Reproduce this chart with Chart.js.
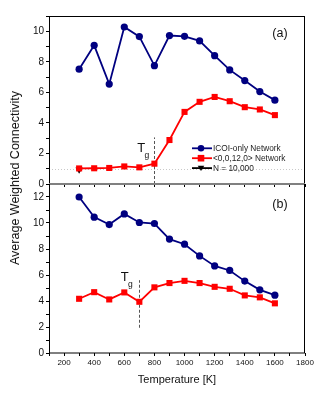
<!DOCTYPE html>
<html lang="en">
<head>
<meta charset="UTF-8">
<title>Average Weighted Connectivity vs Temperature</title>
<script src="https://cdn.jsdelivr.net/npm/chart.js"></script>
<style>
  body { margin: 0; background: #fff; }
  .wrap { position: relative; width: 332px; height: 399px; overflow: hidden; font-family: 'Liberation Sans', Arial, sans-serif; }
  canvas { position: absolute; left: 0; }
  #chartA { top: 0; }
  #chartB { top: 164px; }
  .ytitle { position: absolute; left: 15px; top: 178px; transform: translate(-50%, -50%) rotate(-90deg); white-space: nowrap; font-size: 12.5px; color: #111; }
</style>
</head>
<body>
<div class="wrap">
  <canvas id="chartA" width="332" height="192"></canvas>
  <canvas id="chartB" width="332" height="235"></canvas>
  <div class="ytitle">Average Weighted Connectivity</div>
</div>
<script>
// temperatures (K)
const temps = [300, 400, 500, 600, 700, 800, 900, 1000, 1100, 1200, 1300, 1400, 1500, 1600];

// panel (a)
const icoiA = [7.52, 9.08, 6.54, 10.28, 9.65, 7.75, 9.72, 9.67, 9.37, 8.4, 7.47, 6.77, 6.05, 5.49];
const vA = [1.02, 1.03, 1.05, 1.15, 1.09, 1.33, 2.88, 4.72, 5.38, 5.7, 5.42, 5.03, 4.88, 4.51];
const nTemps = [300];
const nVals = [0.95];

// panel (b)
const icoiB = [12.0, 10.45, 9.88, 10.7, 10.04, 9.96, 8.76, 8.37, 7.47, 6.7, 6.35, 5.53, 4.86, 4.45];
const vB = [4.17, 4.68, 4.12, 4.66, 3.94, 5.05, 5.38, 5.55, 5.38, 5.09, 4.94, 4.43, 4.28, 3.82];

const xTicks = [200, 400, 600, 800, 1000, 1200, 1400, 1600, 1800];

const FONT = "'Liberation Sans', Arial, sans-serif";
const BLUE = '#000080';
const RED = '#ff0000';

function pts(xs, ys) {
  return xs.map((x, i) => ({ x: x, y: ys[i] }));
}

function series(label, xs, ys, color, style, radius, rotation) {
  return {
    label: label,
    data: pts(xs, ys),
    borderColor: color,
    backgroundColor: color,
    borderWidth: 1.8,
    pointStyle: style,
    pointRadius: radius,
    pointHoverRadius: radius,
    pointRotation: rotation || 0,
    pointBorderWidth: 0,
    tension: 0
  };
}

// draws a small marker (for the legend)
function marker(ctx, style, x, y, r) {
  ctx.beginPath();
  if (style === 'circle') {
    ctx.arc(x, y, r, 0, Math.PI * 2);
  } else if (style === 'rect') {
    ctx.rect(x - r, y - r, 2 * r, 2 * r);
  } else {
    ctx.moveTo(x - r, y - r * 0.7);
    ctx.lineTo(x + r, y - r * 0.7);
    ctx.lineTo(x, y + r * 0.9);
    ctx.closePath();
  }
  ctx.fill();
}

const framePlugin = {
  id: 'frame',
  afterDraw(chart, args, opts) {
    const { ctx, chartArea: a } = chart;
    ctx.save();
    ctx.lineWidth = 1;
    ctx.strokeStyle = '#000';
    ctx.beginPath();
    if (opts.top) { ctx.moveTo(a.left, a.top + 0.5); ctx.lineTo(a.right, a.top + 0.5); }
    ctx.moveTo(a.left + 0.5, a.top); ctx.lineTo(a.left + 0.5, a.bottom);
    ctx.moveTo(a.right - 0.5, a.top); ctx.lineTo(a.right - 0.5, a.bottom);
    ctx.stroke();
    ctx.beginPath();
    ctx.strokeStyle = opts.bottomColor || '#000';
    ctx.lineWidth = opts.bottomWidth || 1;
    ctx.moveTo(a.left, a.bottom); ctx.lineTo(a.right, a.bottom);
    ctx.stroke();
    ctx.restore();
  }
};

const notesPlugin = {
  id: 'notes',
  beforeDatasetsDraw(chart, args, opts) {
    const { ctx, chartArea: a, scales: { x, y } } = chart;
    ctx.save();
    if (opts.refLine !== undefined) {
      ctx.strokeStyle = '#c8c8c8';
      ctx.lineWidth = 1;
      ctx.setLineDash([1, 2]);
      ctx.beginPath();
      const py = Math.round(y.getPixelForValue(opts.refLine)) + 0.5;
      ctx.moveTo(a.left, py); ctx.lineTo(a.right, py);
      ctx.stroke();
    }
    ctx.strokeStyle = '#555';
    ctx.setLineDash([3, 2]);
    ctx.beginPath();
    const px = Math.round(x.getPixelForValue(opts.tg)) + 0.5;
    ctx.moveTo(px, y.getPixelForValue(opts.tgFrom));
    ctx.lineTo(px, y.getPixelForValue(opts.tgTo));
    ctx.stroke();
    ctx.setLineDash([]);
    // T_g label
    const lx = x.getPixelForValue(opts.tgLabel[0]);
    const ly = y.getPixelForValue(opts.tgLabel[1]);
    ctx.fillStyle = '#111';
    ctx.textAlign = 'center';
    ctx.textBaseline = 'middle';
    ctx.font = '13px ' + FONT;
    ctx.fillText('T', lx, ly);
    ctx.font = '8.5px ' + FONT;
    ctx.fillText('g', lx + 5.5, ly + 7);
    // panel tag
    ctx.font = '12.5px ' + FONT;
    ctx.fillText(opts.tag, a.right - 25, a.top + opts.tagDy);
    ctx.restore();
  }
};

const legendPlugin = {
  id: 'boxLegend',
  afterDatasetsDraw(chart, args, opts) {
    if (!opts.show) return;
    const { ctx } = chart;
    ctx.save();
    chart.data.datasets.forEach((ds, i) => {
      const yy = opts.y + i * opts.step;
      ctx.strokeStyle = ds.borderColor;
      ctx.fillStyle = ds.backgroundColor;
      ctx.lineWidth = 1.8;
      ctx.beginPath();
      ctx.moveTo(opts.x, yy); ctx.lineTo(opts.x + 20, yy);
      ctx.stroke();
      marker(ctx, ds.pointStyle === 'triangle' ? 'tri' : ds.pointStyle, opts.x + 9, yy, 3.3);
      ctx.fillStyle = '#222';
      ctx.font = '8.3px ' + FONT;
      ctx.textAlign = 'left';
      ctx.textBaseline = 'middle';
      ctx.fillText(ds.label, opts.x + 21, yy + 0.5);
    });
    ctx.restore();
  }
};

function makeOptions(panel) {
  const isA = panel === 'a';
  return {
    responsive: false,
    animation: false,
    layout: { padding: { top: isA ? 16 : 20, right: 27, left: 0, bottom: 0 } },
    plugins: {
      legend: { display: false },
      tooltip: { enabled: false },
      frame: { top: isA, bottomColor: isA ? '#808080' : '#000', bottomWidth: isA ? 2 : 1 },
      notes: isA
        ? { refLine: 1, tg: 800, tgFrom: 0, tgTo: 3.05, tgLabel: [713, 2.3], tag: '(a)', tagDy: 18 }
        : { tg: 700, tgFrom: 1.94, tgTo: 5.6, tgLabel: [603, 5.8], tag: '(b)', tagDy: 21 },
      boxLegend: { show: isA, x: 192, y: 148.3, step: 9.9 }
    },
    scales: {
      x: {
        type: 'linear',
        min: 100,
        max: 1800,
        afterFit: s => { s.height = isA ? 8 : 46; },
        afterBuildTicks: s => {
          s.ticks = [];
          for (let v = 100; v <= 1800; v += 100) s.ticks.push({ value: v });
        },
        border: { display: false },
        grid: { drawOnChartArea: false, drawTicks: true, tickLength: 3, color: '#000' },
        ticks: {
          autoSkip: false,
          maxRotation: 0,
          padding: 2,
          color: '#111',
          font: { family: FONT, size: 8 },
          callback: v => (!isA && xTicks.includes(v)) ? v : ''
        },
        title: {
          display: !isA,
          text: 'Temperature [K]',
          color: '#111',
          font: { family: FONT, size: 11 },
          padding: { top: 0, bottom: 12 }
        }
      },
      y: {
        min: 0,
        max: isA ? 11 : 13,
        afterFit: s => { s.width = 49; },
        border: { display: false },
        grid: { drawOnChartArea: false, drawTicks: true, tickLength: 3, color: '#000' },
        ticks: {
          stepSize: 1,
          autoSkip: false,
          padding: 2,
          color: '#111',
          font: { family: FONT, size: 10 },
          callback: v => v % 2 === 0 ? v : ''
        }
      }
    }
  };
}

new Chart(document.getElementById('chartA'), {
  type: 'line',
  data: {
    datasets: [
      series('ICOI-only Network', temps, icoiA, BLUE, 'circle', 3.6),
      series('<0,0,12,0> Network', temps, vA, RED, 'rect', 4.3),
      series('N = 10,000', nTemps, nVals, '#000', 'triangle', 4.2, 180)
    ]
  },
  options: makeOptions('a'),
  plugins: [framePlugin, notesPlugin, legendPlugin]
});

new Chart(document.getElementById('chartB'), {
  type: 'line',
  data: {
    datasets: [
      series('ICOI-only Network', temps, icoiB, BLUE, 'circle', 3.6),
      series('<0,0,12,0> Network', temps, vB, RED, 'rect', 4.3)
    ]
  },
  options: makeOptions('b'),
  plugins: [framePlugin, notesPlugin, legendPlugin]
});
</script>
</body>
</html>
